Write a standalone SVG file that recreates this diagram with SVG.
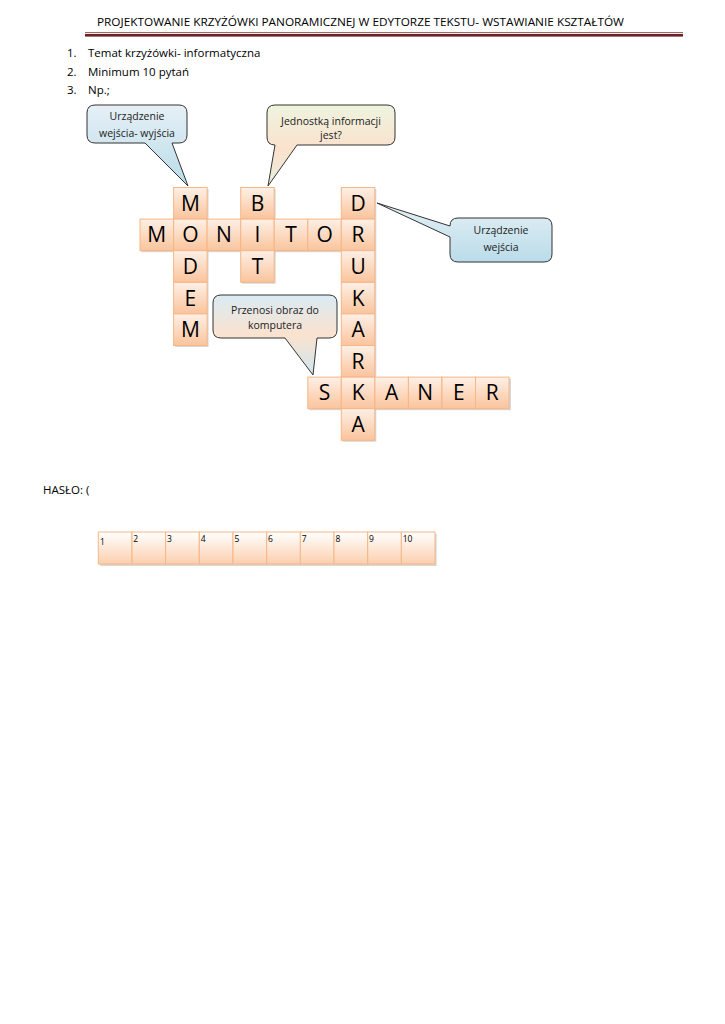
<svg xmlns="http://www.w3.org/2000/svg" width="725" height="1024" viewBox="0 0 725 1024">
<defs>
<linearGradient id="cellG" x1="0" y1="0" x2="0" y2="1"><stop offset="0" stop-color="#fef0e6"/><stop offset="1" stop-color="#fac49c"/></linearGradient>
<linearGradient id="passG" x1="0" y1="0" x2="0" y2="1"><stop offset="0" stop-color="#ffffff"/><stop offset="1" stop-color="#fbcfae"/></linearGradient>
<linearGradient id="blueG" x1="0" y1="0" x2="0" y2="1"><stop offset="0" stop-color="#e6f0f6"/><stop offset="1" stop-color="#b9dce8"/></linearGradient>
<linearGradient id="greenG" x1="0" y1="0" x2="0" y2="1"><stop offset="0" stop-color="#eef4df"/><stop offset="0.55" stop-color="#fbe1cd"/><stop offset="1" stop-color="#e8eedd"/></linearGradient>
<linearGradient id="mixG" x1="0" y1="0" x2="0" y2="1"><stop offset="0" stop-color="#d9ebf3"/><stop offset="0.5" stop-color="#fbe2cf"/><stop offset="1" stop-color="#cfe6ee"/></linearGradient>
<style>
.cell{fill:url(#cellG);stroke:#f7b685;stroke-width:1}
.pass{fill:url(#passG);stroke:#f7b685;stroke-width:1}
.sh{fill:#a9a9a9;opacity:.45}
.let{font-family:"Open Sans","Liberation Sans",sans-serif;font-size:21px;fill:#000;text-anchor:middle}
.num{font-family:"Open Sans","Liberation Sans",sans-serif;font-size:8.5px;fill:#000}
.call{stroke:#333;stroke-width:1}
.ct{font-family:"Open Sans","Liberation Sans",sans-serif;font-size:10.5px;fill:#222;text-anchor:middle}
.body{font-family:"Open Sans","Liberation Sans",sans-serif;font-size:11.5px;fill:#000}
</style>
</defs>
<rect width="725" height="1024" fill="#fff"/>

<g id="header">
<text class="body" x="97" y="26" textLength="527" lengthAdjust="spacingAndGlyphs">PROJEKTOWANIE KRZYŻÓWKI PANORAMICZNEJ W EDYTORZE TEKSTU- WSTAWIANIE KSZTAŁTÓW</text>
<rect x="85" y="32.3" width="598" height="0.8" fill="#7a2a2a"/>
<rect x="85" y="34" width="598" height="2.6" fill="#6b2323"/>
</g>

<g id="list">
<text class="body" x="67" y="57">1.</text><text class="body" x="88" y="57">Temat krzyżówki- informatyczna</text>
<text class="body" x="67" y="75.5">2.</text><text class="body" x="88" y="75.5">Minimum 10 pytań</text>
<text class="body" x="67" y="94">3.</text><text class="body" x="88" y="94">Np.;</text>
</g>

<g id="callout-modem">
<path class="call" fill="url(#blueG)" d="M95,105 H179 Q187,105 187,113 V135 Q187,143 179,143 H172 L188,186 L145,143 H95 Q87,143 87,135 V113 Q87,105 95,105 Z"/>
<text class="ct" x="137" y="120">Urządzenie</text>
<text class="ct" x="137" y="137">wejścia- wyjścia</text>
</g>

<g id="callout-bit">
<path class="call" fill="url(#greenG)" d="M275,105 H387 Q395,105 395,113 V137 Q395,145 387,145 H297 L268,186 L275,145 Q267,145 267,137 V113 Q267,105 275,105 Z"/>
<text class="ct" x="331" y="125">Jednostką informacji</text>
<text class="ct" x="331" y="139">jest?</text>
</g>

<g id="callout-drukarka">
<path class="call" fill="url(#blueG)" d="M458,218 H544 Q552,218 552,226 V254 Q552,262 544,262 H458 Q450,262 450,254 V237 L377,203 L450,226 Q450,218 458,218 Z"/>
<text class="ct" x="501" y="234">Urządzenie</text>
<text class="ct" x="501" y="251">wejścia</text>
</g>

<g id="callout-skaner">
<path class="call" fill="url(#mixG)" d="M221,295 H329 Q337,295 337,303 V330 Q337,338 329,338 H317 L313,375 L285,338 H221 Q213,338 213,330 V303 Q213,295 221,295 Z"/>
<text class="ct" x="275" y="314">Przenosi obraz do</text>
<text class="ct" x="275" y="329">komputera</text>
</g>

<g id="shadows">
<rect class="sh" x="175.1" y="189" width="33.5" height="31.6"/>
<rect class="sh" x="242.2" y="189" width="33.5" height="31.6"/>
<rect class="sh" x="342.8" y="189" width="33.5" height="31.6"/>
<rect class="sh" x="141.5" y="220.6" width="233.5" height="31.6"/>
<rect class="sh" x="175.1" y="220.6" width="33.5" height="126.4"/>
<rect class="sh" x="242.2" y="220.6" width="33.5" height="63.2"/>
<rect class="sh" x="342.8" y="220.6" width="33.5" height="221.2"/>
<rect class="sh" x="309.3" y="378.6" width="201.7" height="31.6"/>
</g>

<g id="crossword">
<g id="r0c1"><rect class="cell" x="173.6" y="187.5" width="33.5" height="31.6"/><text class="let" x="190.4" y="210.8">M</text></g>
<g id="r0c3"><rect class="cell" x="240.7" y="187.5" width="33.5" height="31.6"/><text class="let" x="257.5" y="210.8">B</text></g>
<g id="r0c6"><rect class="cell" x="341.3" y="187.5" width="33.5" height="31.6"/><text class="let" x="358.1" y="210.8">D</text></g>

<g id="r1c0"><rect class="cell" x="140" y="219.1" width="33.5" height="31.6"/><text class="let" x="156.8" y="242.4">M</text></g>
<g id="r1c1"><rect class="cell" x="173.6" y="219.1" width="33.5" height="31.6"/><text class="let" x="190.4" y="242.4">O</text></g>
<g id="r1c2"><rect class="cell" x="207.1" y="219.1" width="33.5" height="31.6"/><text class="let" x="223.9" y="242.4">N</text></g>
<g id="r1c3"><rect class="cell" x="240.7" y="219.1" width="33.5" height="31.6"/><text class="let" x="257.5" y="242.4">I</text></g>
<g id="r1c4"><rect class="cell" x="274.2" y="219.1" width="33.5" height="31.6"/><text class="let" x="291" y="242.4">T</text></g>
<g id="r1c5"><rect class="cell" x="307.8" y="219.1" width="33.5" height="31.6"/><text class="let" x="324.6" y="242.4">O</text></g>
<g id="r1c6"><rect class="cell" x="341.3" y="219.1" width="33.5" height="31.6"/><text class="let" x="358.1" y="242.4">R</text></g>

<g id="r2c1"><rect class="cell" x="173.6" y="250.7" width="33.5" height="31.6"/><text class="let" x="190.4" y="274">D</text></g>
<g id="r2c3"><rect class="cell" x="240.7" y="250.7" width="33.5" height="31.6"/><text class="let" x="257.5" y="274">T</text></g>
<g id="r2c6"><rect class="cell" x="341.3" y="250.7" width="33.5" height="31.6"/><text class="let" x="358.1" y="274">U</text></g>

<g id="r3c1"><rect class="cell" x="173.6" y="282.3" width="33.5" height="31.6"/><text class="let" x="190.4" y="305.6">E</text></g>
<g id="r3c6"><rect class="cell" x="341.3" y="282.3" width="33.5" height="31.6"/><text class="let" x="358.1" y="305.6">K</text></g>

<g id="r4c1"><rect class="cell" x="173.6" y="313.9" width="33.5" height="31.6"/><text class="let" x="190.4" y="337.2">M</text></g>
<g id="r4c6"><rect class="cell" x="341.3" y="313.9" width="33.5" height="31.6"/><text class="let" x="358.1" y="337.2">A</text></g>

<g id="r5c6"><rect class="cell" x="341.3" y="345.5" width="33.5" height="31.6"/><text class="let" x="358.1" y="368.8">R</text></g>

<g id="r6c5"><rect class="cell" x="307.8" y="377.1" width="33.5" height="31.6"/><text class="let" x="324.6" y="400.4">S</text></g>
<g id="r6c6"><rect class="cell" x="341.3" y="377.1" width="33.5" height="31.6"/><text class="let" x="358.1" y="400.4">K</text></g>
<g id="r6c7"><rect class="cell" x="374.9" y="377.1" width="33.5" height="31.6"/><text class="let" x="391.7" y="400.4">A</text></g>
<g id="r6c8"><rect class="cell" x="408.4" y="377.1" width="33.5" height="31.6"/><text class="let" x="425.2" y="400.4">N</text></g>
<g id="r6c9"><rect class="cell" x="442" y="377.1" width="33.5" height="31.6"/><text class="let" x="458.8" y="400.4">E</text></g>
<g id="r6c10"><rect class="cell" x="475.5" y="377.1" width="33.5" height="31.6"/><text class="let" x="492.3" y="400.4">R</text></g>

<g id="r7c6"><rect class="cell" x="341.3" y="408.7" width="33.5" height="31.6"/><text class="let" x="358.1" y="432">A</text></g>
</g>

<g id="haslo-label"><text class="body" x="43" y="494">HASŁO: (</text></g>

<g id="haslo">
<rect class="sh" x="100" y="534" width="336.7" height="32"/>
<g id="p1"><rect class="pass" x="98.3" y="532" width="33.7" height="32"/><text class="num" x="100" y="545">1</text></g>
<g id="p2"><rect class="pass" x="132" y="532" width="33.7" height="32"/><text class="num" x="133.3" y="542">2</text></g>
<g id="p3"><rect class="pass" x="165.6" y="532" width="33.7" height="32"/><text class="num" x="167" y="542">3</text></g>
<g id="p4"><rect class="pass" x="199.3" y="532" width="33.7" height="32"/><text class="num" x="200.7" y="542">4</text></g>
<g id="p5"><rect class="pass" x="233" y="532" width="33.7" height="32"/><text class="num" x="234.4" y="542">5</text></g>
<g id="p6"><rect class="pass" x="266.7" y="532" width="33.7" height="32"/><text class="num" x="268.1" y="542">6</text></g>
<g id="p7"><rect class="pass" x="300.3" y="532" width="33.7" height="32"/><text class="num" x="301.7" y="542">7</text></g>
<g id="p8"><rect class="pass" x="334" y="532" width="33.7" height="32"/><text class="num" x="335.4" y="542">8</text></g>
<g id="p9"><rect class="pass" x="367.7" y="532" width="33.7" height="32"/><text class="num" x="369.1" y="542">9</text></g>
<g id="p10"><rect class="pass" x="401.3" y="532" width="33.7" height="32"/><text class="num" x="402.7" y="542">10</text></g>
</g>
</svg>
